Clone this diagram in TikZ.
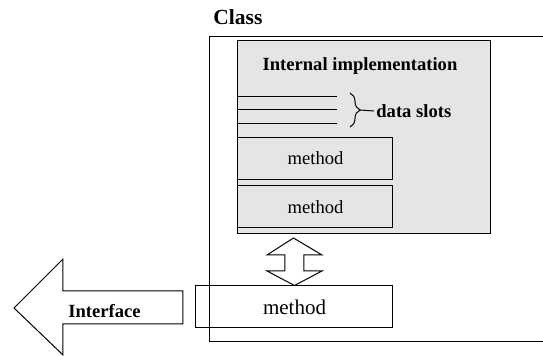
\documentclass[tikz,border=0pt]{standalone}
\usepackage{fontspec}
\setmainfont{Liberation Serif}
\usetikzlibrary{positioning,calc,decorations.pathreplacing}
\tikzset{
  cd/class/.style={draw, line width=0.5pt, inner sep=0pt, minimum width=175pt, minimum height=152.5pt},
  cd/impl/.style={draw, line width=0.5pt, fill=black!10, inner sep=0pt, minimum width=126.5pt, minimum height=96.5pt},
  cd/method/.style={draw, line width=0.5pt, fill=black!10, inner sep=0pt, minimum width=77.5pt, minimum height=21pt, font=\fontsize{9.3}{11}\selectfont},
  cd/pubmethod/.style={draw, line width=0.5pt, inner sep=0pt, minimum width=98.5pt, minimum height=21pt, font=\fontsize{10.5}{12}\selectfont},
  cd/title/.style={font=\bfseries\fontsize{10.75}{13}\selectfont, inner sep=0pt},
  cd/label/.style={font=\bfseries\fontsize{9.3}{11}\selectfont, inner sep=0pt},
  cd/slot/.style={line width=0.5pt},
  cd/block/.style={draw, line width=0.5pt, line join=miter},
  cd/brace/.style={decorate, decoration={brace, amplitude=5pt}, line width=0.5pt}
}

\begin{document}
\begin{tikzpicture}[x=0.5pt, y=-0.5pt]
  \useasboundingbox (0,0) rectangle (543,356);
  \node[cd/class] (cls) at (385,189.5) {};
  \node[cd/title, anchor=west] (clsname) at (213,17.5) {Class};
  \node[cd/impl] (impl) at (364.5,137.5) {};
  \node[cd/label] (impltitle) at (360,66) {Internal implementation};
  \node[cd/method] (m1) at (315.5,158.5) {method};
  \node[cd/method] (m2) at (315.5,207) {method};
  \node[cd/pubmethod] (pub) at (294.5,307) {method};

  % data slots
  \foreach \y in {97,110,124}
    \draw[cd/slot] (238,\y) -- (337,\y);
  \draw[cd/brace] (350,93) -- (350,127);
  \coordinate (bracetip) at (360,110);
  \node[cd/label, anchor=west] (slots) at (376,111) {data slots};
  \draw[cd/slot] (bracetip) -- ($(slots.west)+(-2,0)$);

  % link between implementation and public method
  \draw[cd/block] (pub.north) -- (267,271) -- (285,271) -- (285,255) -- (267,255)
    -- (293.5,238) -- (322,255) -- (304,255) -- (304,271) -- (322,271) -- cycle;

  % interface arrow
  \draw[cd/block] (14,308) -- (63,259) -- (63,291) -- (183,291) -- (183,324)
    -- (63,324) -- (63,355) -- cycle;
  \node[cd/label] (iface) at (104.5,311.5) {Interface};
\end{tikzpicture}
\end{document}
